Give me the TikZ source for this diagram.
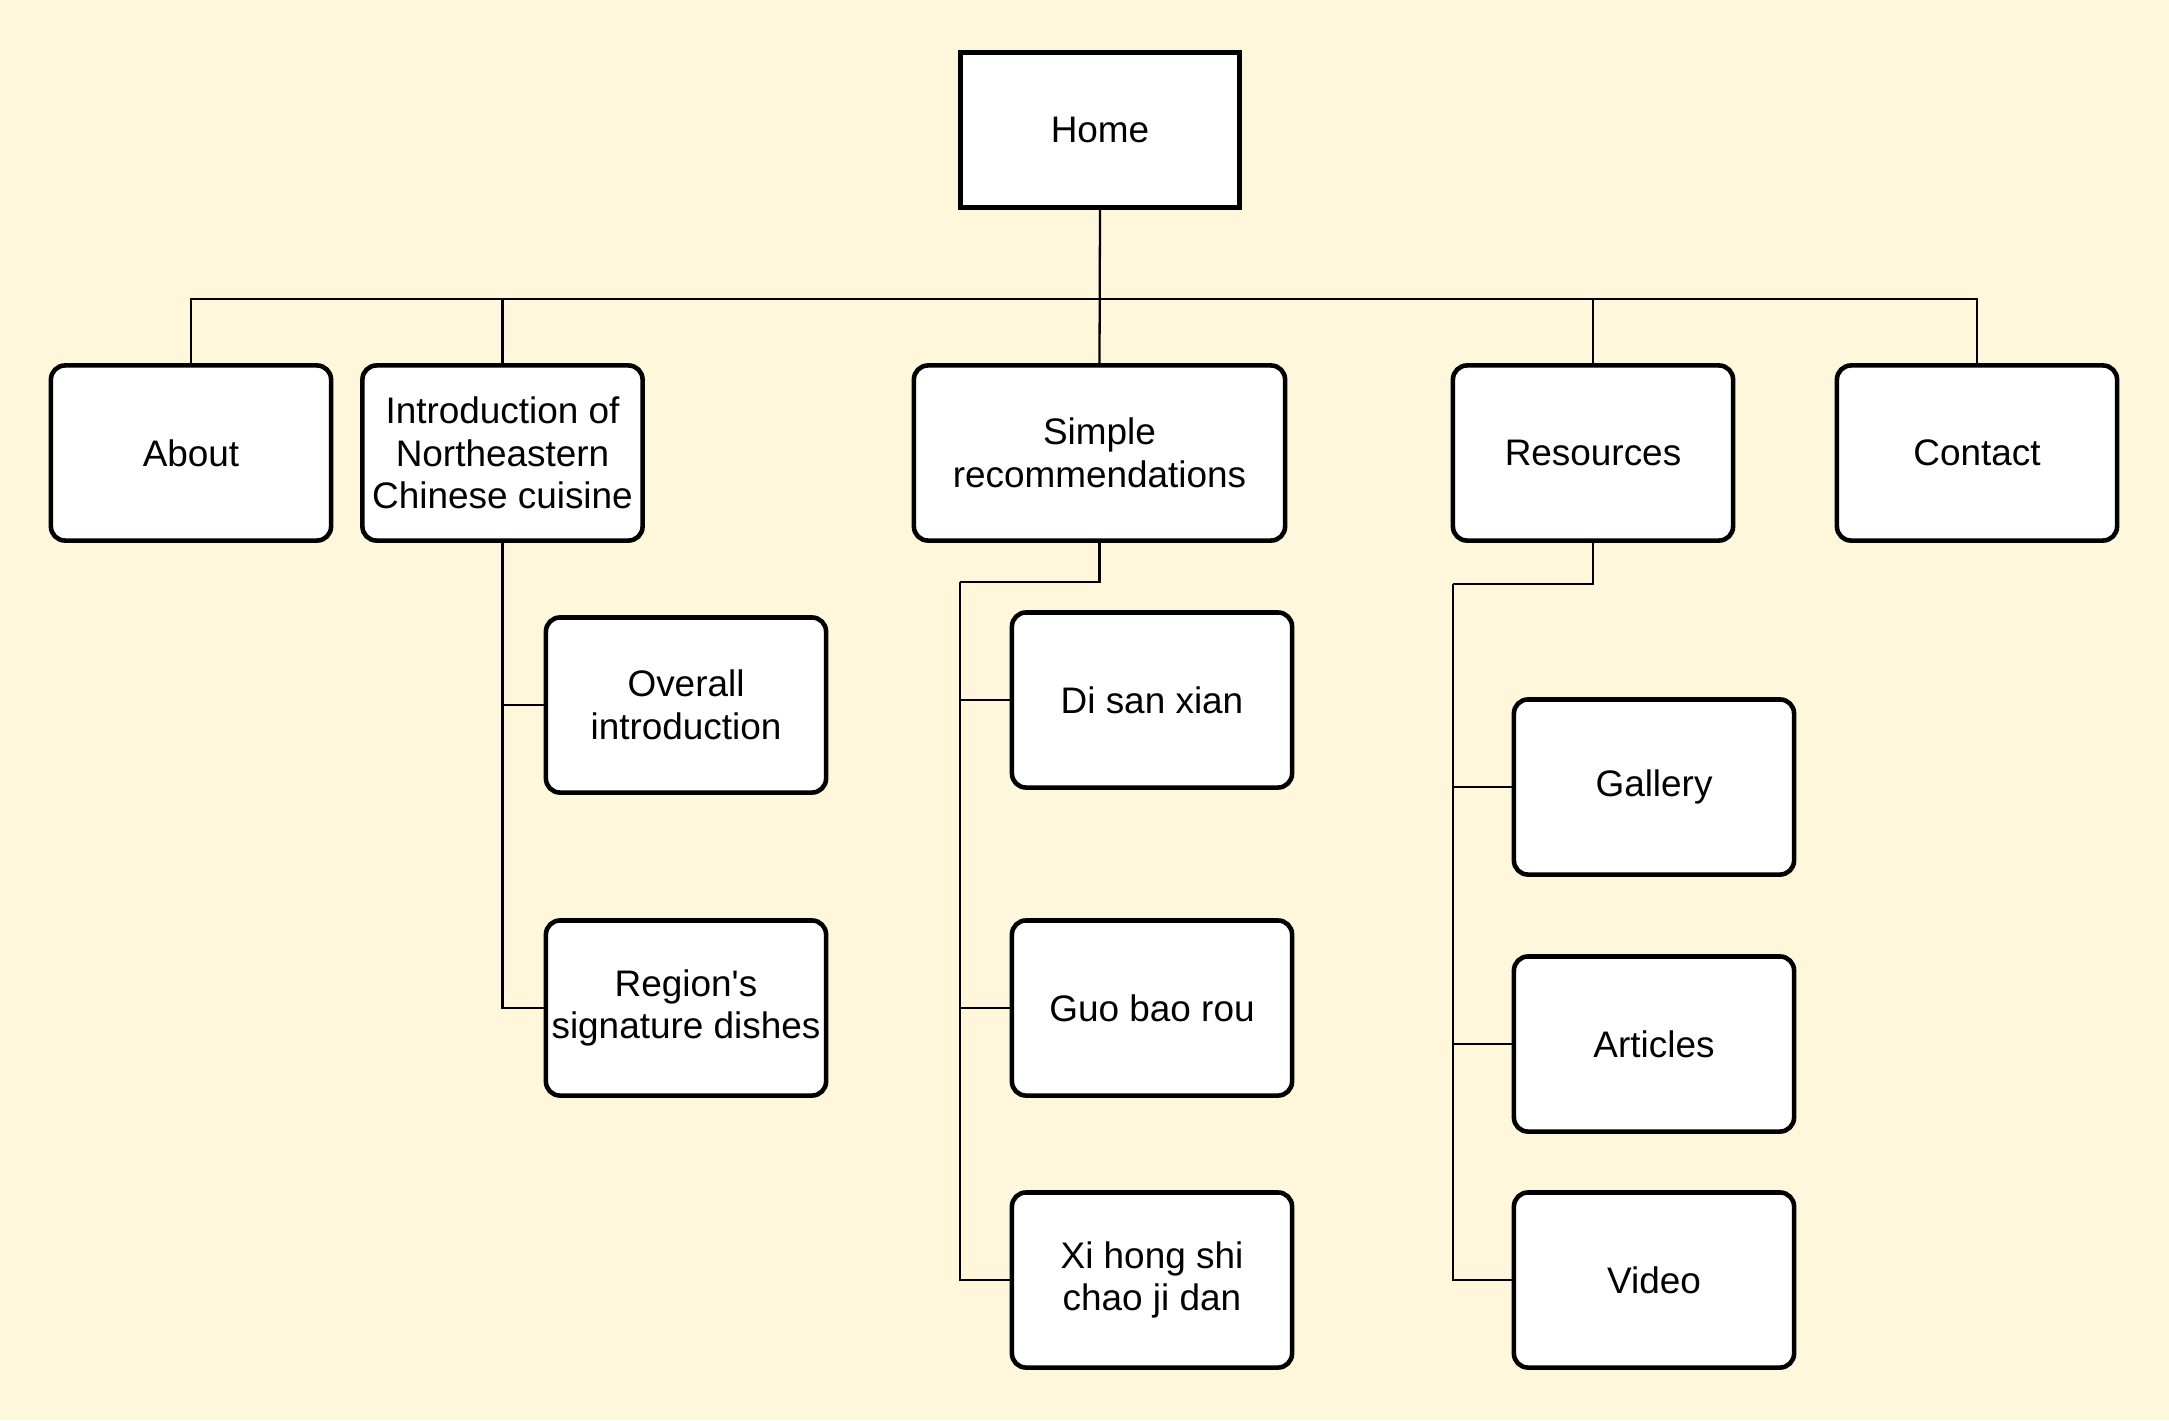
\documentclass[tikz,border=0pt]{standalone}
\usepackage{fontspec}
\setmainfont{Liberation Sans}
\usepackage{xcolor}
\usepackage{tikz}
\usetikzlibrary{positioning,calc}
\definecolor{pagebg}{RGB}{255,247,219}

\begin{document}
\begin{tikzpicture}[
    x=0.01cm, y=-0.01cm,
    pagebox/.style={draw, fill=white, line width=1.3pt, rounded corners=4pt, minimum width=2.8cm, minimum height=1.75cm, align=center, inner sep=1pt, font=\fontsize{10.5}{12.1}\selectfont},
    homebox/.style={draw, fill=white, line width=1.4pt, minimum width=2.79cm, minimum height=1.55cm, font=\fontsize{10.5}{12.1}\selectfont},
    link/.style={line width=0.65pt}
]
    \fill[pagebg] (0,0) rectangle (2169,1420);
    \useasboundingbox (0,0) rectangle (2169,1420);

    % Home
    \node[homebox] (home) at (1100,130) {Home};
    \coordinate (bus) at (1100,299);

    % Top level
    \node[pagebox] (about) at (191,453) {About};
    \node[pagebox] (intro) at (502.5,453) {Introduction of\\Northeastern\\Chinese cuisine};
    \node[pagebox, minimum width=3.71cm] (simple) at (1099.5,453) {Simple\\recommendations};
    \node[pagebox] (res) at (1593,453) {Resources};
    \node[pagebox] (contact) at (1977,453) {Contact};
    \draw[link] (home.south) -- (bus) -| (about.north);
    \draw[link] (bus) -| (intro.north);
    \draw[link] (home.south) -- (simple.north);
    \draw[link] (bus) -| (res.north);
    \draw[link] (bus) -| (contact.north);

    % Introduction
    \node[pagebox] (overall) at (686,705) {Overall\\introduction};
    \node[pagebox] (region) at (686,1008) {Region\textquotesingle s\\signature dishes};
    \draw[link] (intro.south) |- (overall.west);
    \draw[link] (intro.south) |- (region.west);

    % Simple recommendations
    \coordinate (simpleel) at (960,582);
    \node[pagebox] (disan) at (1152,700) {Di san xian};
    \node[pagebox] (guobao) at (1152,1008) {Guo bao rou};
    \node[pagebox] (xihong) at (1152,1280) {Xi hong shi\\chao ji dan};
    \draw[link] (simple.south) |- (simpleel);
    \draw[link] (simpleel) |- (disan.west);
    \draw[link] (simpleel) |- (guobao.west);
    \draw[link] (simpleel) |- (xihong.west);

    % Resources
    \coordinate (resel) at (1453,584);
    \node[pagebox] (gallery) at (1654,787) {Gallery};
    \node[pagebox] (articles) at (1654,1044) {Articles};
    \node[pagebox] (video) at (1654,1280) {Video};
    \draw[link] (res.south) |- (resel);
    \draw[link] (resel) |- (gallery.west);
    \draw[link] (resel) |- (articles.west);
    \draw[link] (resel) |- (video.west);
\end{tikzpicture}
\end{document}
